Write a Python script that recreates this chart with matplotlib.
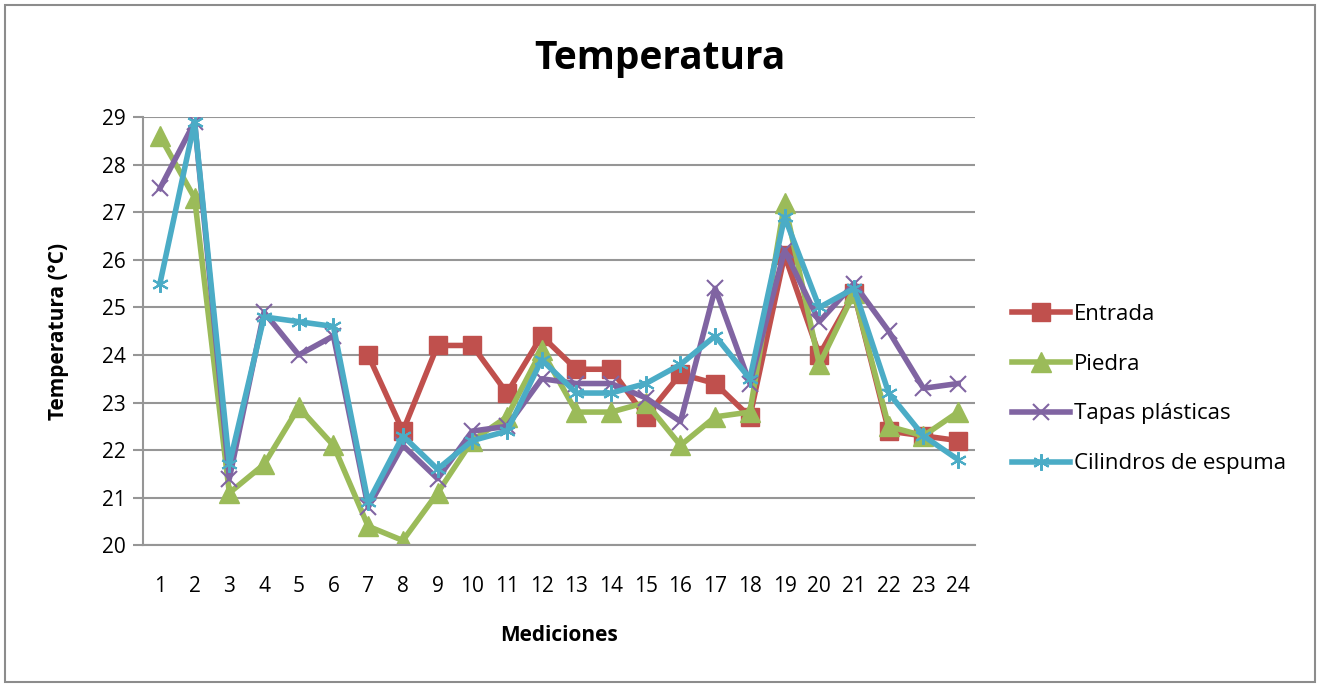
import numpy as np
import matplotlib.pyplot as plt
from matplotlib.patches import Rectangle

nan = np.nan
mediciones = list(range(1, 25))
entrada = [nan, nan, nan, nan, nan, nan, 24.0, 22.4, 24.2, 24.2, 23.2, 24.4,
           23.7, 23.7, 22.7, 23.6, 23.4, 22.7, 26.1, 24.0, 25.3, 22.4, 22.3, 22.2]
piedra = [28.6, 27.3, 21.1, 21.7, 22.9, 22.1, 20.4, 20.1, 21.1, 22.2, 22.7, 24.1,
          22.8, 22.8, 23.0, 22.1, 22.7, 22.8, 27.2, 23.8, 25.3, 22.5, 22.3, 22.8]
tapas = [27.5, 28.9, 21.4, 24.9, 24.0, 24.4, 20.8, 22.1, 21.4, 22.4, 22.5, 23.5,
         23.4, 23.4, 23.1, 22.6, 25.4, 23.4, 26.2, 24.7, 25.5, 24.5, 23.3, 23.4]
cilindros = [25.5, 28.9, 21.7, 24.8, 24.7, 24.6, 20.9, 22.3, 21.6, 22.2, 22.4, 23.9,
             23.2, 23.2, 23.4, 23.8, 24.4, 23.5, 26.9, 25.0, 25.4, 23.2, 22.3, 21.8]

plt.rcParams['font.family'] = ['Open Sans', 'DejaVu Sans']

fig = plt.figure(figsize=(13.2, 6.85), dpi=100)
fig.patches.append(Rectangle((0.004, 0.004), 0.992, 0.989, transform=fig.transFigure,
                             fill=False, edgecolor='#8c8c8c', linewidth=1.5))
ax = fig.add_axes([0.108, 0.204, 0.631, 0.625])

ax.plot(mediciones, entrada, color='#c0504d', lw=4, marker='s', ms=13, label='Entrada')
ax.plot(mediciones, piedra, color='#9bbb59', lw=4, marker='^', ms=14, label='Piedra')
ax.plot(mediciones, tapas, color='#8064a2', lw=4, marker='x', ms=11, mew=1.5, label='Tapas plásticas')
ax.plot(mediciones, cilindros, color='#4bacc6', lw=4, marker=(6, 2, 0), ms=12, mew=1.5,
        label='Cilindros de espuma')

ax.set_xlim(0.5, 24.5)
ax.set_ylim(20, 29)
ax.set_xticks(mediciones)
ax.set_yticks(range(20, 30))
ax.grid(axis='y', color='#969696', lw=1.5)
ax.set_axisbelow(True)
for s in ['top', 'right']:
    ax.spines[s].set_visible(False)
ax.spines['left'].set_color('#969696')
ax.spines['bottom'].set_color('#969696')
ax.spines['left'].set_linewidth(1.5)
ax.spines['bottom'].set_linewidth(1.5)
ax.tick_params(axis='y', length=7, width=1.5, color='#969696', labelsize=15, pad=5)
ax.tick_params(axis='x', length=0, labelsize=15, pad=22)

fig.text(0.5, 0.915, 'Temperatura', fontsize=28, fontweight='bold', ha='center', va='center')
ax.set_ylabel('Temperatura (°C)', fontsize=15, fontweight='bold', labelpad=24)
ax.set_xlabel('Mediciones', fontsize=15, fontweight='bold', labelpad=20)

ax.legend(loc='center left', bbox_to_anchor=(1.02, 0.365), frameon=False, fontsize=16,
          handlelength=2.6, labelspacing=1.3, handletextpad=0.2)

fig.savefig('out.png', dpi=100)
